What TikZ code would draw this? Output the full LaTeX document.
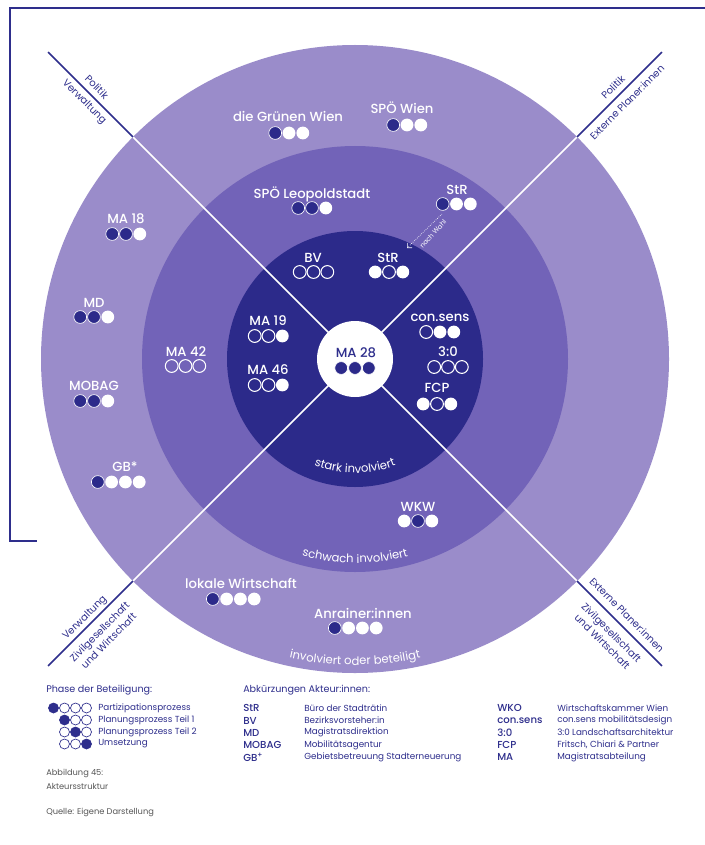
\documentclass[tikz,border=0pt]{standalone}
\usepackage{fontspec}
\setmainfont{Poppins}
\newfontfamily\medfont{Poppins Medium}
\usetikzlibrary{decorations.text,arrows.meta}
\definecolor{ringA}{HTML}{9A8CCA}
\definecolor{ringB}{HTML}{7263B8}
\definecolor{ringC}{HTML}{2C2A8A}
\definecolor{navy}{HTML}{2E2E8C}
\definecolor{grayt}{HTML}{555555}
\newcommand{\drow}[4]{%
  \foreach \t [count=\i] in {#4}{%
    \path[dot\t] ({#1+(\i-(#3+1)/2)*13.8},#2) circle[radius=6.4];}}
\newcommand{\lrow}[3]{%
  \foreach \t [count=\i] in {#3}{%
    \path[ldot\t] ({#1+(\i-1)*11},#2) circle[radius=5];}}
\begin{document}
\begin{tikzpicture}[x=0.75pt,y=-0.75pt,
  lab/.style={font=\medfont\fontsize{9.9}{11}\selectfont, text=white, inner sep=0pt, anchor=base},
  side/.style={font=\fontsize{7.5}{9.6}\selectfont, text=navy, inner sep=0pt, align=center},
  doto/.style={draw=white, line width=0.8pt},
  dotw/.style={fill=white},
  dotn/.style={fill=ringC, draw=white, line width=0.5pt},
  ldotf/.style={fill=navy, draw=navy, line width=0.5pt},
  ldoto/.style={draw=navy, line width=0.5pt},
  legh/.style={font=\fontsize{7.2}{8}\selectfont, text=navy, anchor=west, inner sep=0pt},
  legt/.style={font=\fontsize{6.6}{7}\selectfont, text=navy, anchor=west, inner sep=0pt},
  abbr/.style={font=\medfont\fontsize{7.6}{8}\selectfont, text=navy, anchor=west, inner sep=0pt},
  foot/.style={font=\fontsize{6.2}{7}\selectfont, text=grayt, anchor=west, inner sep=0pt},
  arctext/.style={postaction={decorate}, decoration={text along path, text align=center, text color=white}}
]
\useasboundingbox (0,0) rectangle (705,845);
\fill[white] (0,0) rectangle (705,845);
% frame
\draw[navy, line width=1.1pt] (705,8) -- (10,8) -- (10,541) -- (37,541);
% rings
\coordinate (C) at (355,359);
\fill[ringA] (C) circle[radius=314];
\fill[ringB] (C) circle[radius=213];
\fill[ringC] (C) circle[radius=128];
% axes
\foreach \a in {45,135,225,315}{
  \path (C) +(\a:314) coordinate (i\a) +(\a:434) coordinate (o\a);
  \draw[white, line width=1.2pt] (C) -- (i\a);
  \draw[navy, line width=1.3pt] (i\a) -- (o\a);
}
\fill[white] (C) circle[radius=38];
% side labels
\node[side, rotate=-45] (tlp) at (97,87) {Politik};
\node[side, rotate=-45] (tlv) at (84,102) {Verwaltung};
\node[side, rotate=45] (trp) at (613,87) {Politik};
\node[side, rotate=45] (tre) at (627,102) {Externe Planer:innen};
\node[side, rotate=45] (blv) at (85,618) {Verwaltung};
\node[side, rotate=45] (blz) at (104,636) {Zivilgesellschaft\\und Wirtschaft};
\node[side, rotate=-45] (bre) at (627,615) {Externe Planer:innen};
\node[side, rotate=-45] (brz) at (607,637) {Zivilgesellschaft\\und Wirtschaft};
% arc texts
\path[arctext, decoration={text={|\fontsize{8.7}{9}\selectfont|stark involviert}}]
  (C) ++(125:114) arc[start angle=125, end angle=55, radius=114];
\path[arctext, decoration={text={|\fontsize{8.7}{9}\selectfont|schwach involviert}}]
  (C) ++(115:204) arc[start angle=115, end angle=65, radius=204];
\path[arctext, decoration={text={|\fontsize{8.7}{9}\selectfont|involviert oder beteiligt}}]
  (C) ++(110:306) arc[start angle=110, end angle=70, radius=306];
% outer ring actors
\node[lab] (grw) at (288,122) {die Grünen Wien};   \drow{289}{133}{3}{n,w,w}
\node[lab] (spw) at (402,114) {SPÖ Wien};          \drow{407}{125}{3}{n,w,w}
\node[lab] (ma18) at (126,223) {MA 18};            \drow{126}{234}{3}{n,n,w}
\node[lab] (md) at (94,307) {MD};                  \drow{94}{317}{3}{n,n,w}
\node[lab] (mobag) at (94,390) {MOBAG};            \drow{94}{401}{3}{n,n,w}
\node[lab] (gb) at (125,471) {GB*};                \drow{118.5}{482}{4}{n,w,w,w}
\node[lab] (lw) at (241,588) {lokale Wirtschaft};  \drow{233.5}{599}{4}{n,w,w,w}
\node[lab] (anr) at (363,618) {Anrainer:innen};    \drow{355.5}{628}{4}{n,w,w,w}
% middle ring actors
\node[lab] (spl) at (312,198) {SPÖ Leopoldstadt};  \drow{312}{208}{3}{n,n,w}
\node[lab] (strm) at (457,195) {StR};              \drow{456.5}{204}{3}{n,w,w}
\node[lab] (ma42) at (186,356) {MA 42};            \drow{185.5}{366}{3}{o,o,o}
\node[lab] (wkw) at (418,511) {WKW};               \drow{418}{521}{3}{w,n,w}
% inner circle actors
\node[lab] (bv) at (313,262) {BV};                 \drow{313.5}{272}{3}{o,o,o}
\node[lab] (stri) at (388,262) {StR};              \drow{389}{272}{3}{w,o,w}
\node[lab] (ma19) at (268,325) {MA 19};            \drow{268.5}{336}{3}{o,o,w}
\node[lab] (ma46) at (268,374) {MA 46};            \drow{268.5}{385}{3}{o,o,w}
\node[lab, text=navy] (ma28) at (356,357) {MA 28}; \drow{355}{368}{3}{n,n,n}
\node[lab] (cons) at (440,321) {con.sens};         \drow{440}{332}{3}{o,w,w}
\node[lab] (d30) at (448,356) {3:0};               \drow{448}{367}{3}{o,o,o}
\node[lab] (fcp) at (437,392) {FCP};               \drow{437}{404}{3}{w,o,w}
% nach Wahl
\node[font=\fontsize{5}{5}\selectfont, text=white, rotate=48, inner sep=0pt] (wahl) at (433,234) {nach Wahl};
\coordinate (wa) at (442,214);
\coordinate (wb) at (407,248);
\draw[white, densely dotted, line width=0.5pt, -{Straight Barb[length=2.5pt,width=5pt]}] (wa) -- (wb);
% legend
\node[legh] (phh) at (46,690) {Phase der Beteiligung:};
\lrow{53.5}{708}{f,o,o,o}
\lrow{64.5}{720}{f,o,o}
\lrow{64.5}{732}{o,f,o}
\lrow{64.5}{744}{o,o,f}
\node[legt] (l1) at (98,708) {Partizipationsprozess};
\node[legt] (l2) at (98,720) {Planungsprozess Teil 1};
\node[legt] (l3) at (98,732) {Planungsprozess Teil 2};
\node[legt] (l4) at (98,744) {Umsetzung};
\node[legh] (abh) at (243,690) {Abkürzungen Akteur:innen:};
\foreach \ab/\de/\y [count=\k] in {StR/Büro der Stadträtin/708,BV/Bezirksvorsteher:in/720.5,MD/Magistratsdirektion/732.5,MOBAG/Mobilitätsagentur/745,GB\textsuperscript{+}/Gebietsbetreuung Stadterneuerung/757}{
  \node[abbr] (a\k) at (243,\y) {\ab};
  \node[legt] (d\k) at (304,\y) {\de};
}
\foreach \ab/\de/\y [count=\k] in {WKO/Wirtschaftskammer Wien/708,con.sens/con.sens mobilitätsdesign/720.5,3:0/3:0 Landschaftsarchitektur/732.5,FCP/{Fritsch, Chiari \& Partner}/745,MA/Magistratsabteilung/757}{
  \node[abbr] (b\k) at (497,\y) {\ab};
  \node[legt] (e\k) at (557,\y) {\de};
}
\node[foot] (f1) at (46,773) {Abbildung 45:};
\node[foot] (f2) at (46,786) {Akteursstruktur};
\node[foot] (f3) at (46,812) {Quelle: Eigene Darstellung};
\end{tikzpicture}
\end{document}
